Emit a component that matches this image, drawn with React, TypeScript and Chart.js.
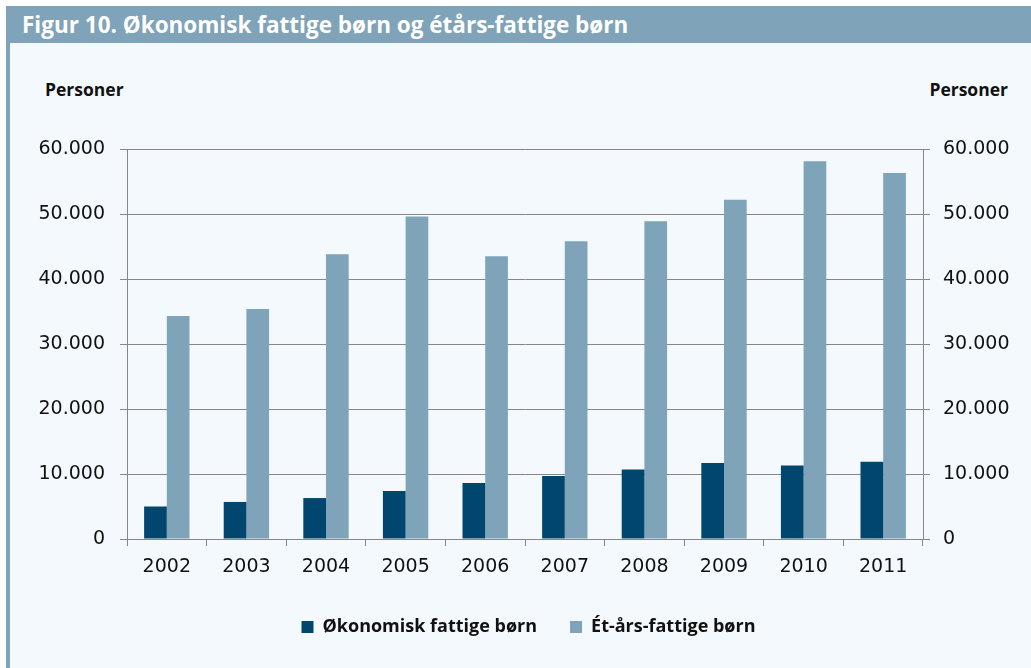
import React, { useEffect, useRef } from "react";
import { Chart, registerables } from "chart.js";

Chart.register(...registerables);

const title = "Figur 10. Økonomisk fattige børn og étårs-fattige børn";
const axisTitle = "Personer";
const years = ["2002", "2003", "2004", "2005", "2006", "2007", "2008", "2009", "2010", "2011"];
const seriesNames = ["Økonomisk fattige børn", "Ét-års-fattige børn"];
const okonomisk = [5000, 5700, 6300, 7400, 8600, 9700, 10700, 11700, 11300, 11900];
const etaars = [34300, 35400, 43800, 49600, 43500, 45800, 48900, 52200, 58100, 56300];
const yMin = 0;
const yMax = 60000;
const yStep = 10000;

const DARK = "#00466e";
const LIGHT = "#7fa3b8";
const GRID = "#878787";
const PANEL = "#f4f9fe";
const TICK_FONT = "'DejaVu Sans', sans-serif";
const BOLD_FONT = "'Open Sans', 'Liberation Sans', sans-serif";

function fmt(v: number): string {
  return String(v).replace(/\B(?=(\d{3})+(?!\d))/g, ".");
}

export default function App() {
  const ref = useRef<HTMLCanvasElement | null>(null);

  useEffect(() => {
    const canvas = ref.current;
    if (!canvas) return;
    const tickFont = { family: TICK_FONT, size: 19 };
    const chart = new Chart(canvas, {
      type: "bar",
      data: {
        labels: years,
        datasets: [
          {
            label: seriesNames[0],
            data: okonomisk,
            backgroundColor: DARK,
            borderWidth: 0,
            yAxisID: "y",
          },
          {
            label: seriesNames[1],
            data: etaars,
            backgroundColor: LIGHT,
            borderWidth: 0,
            yAxisID: "y",
          },
        ],
      },
      options: {
        responsive: false,
        animation: false,
        devicePixelRatio: 1,
        layout: { padding: { left: 26, right: 0, top: 149, bottom: 22 } },
        datasets: { bar: { categoryPercentage: 0.57, barPercentage: 1.0 } },
        plugins: {
          tooltip: { enabled: false },
          title: { display: false },
          legend: {
            display: true,
            position: "bottom",
            labels: {
              boxWidth: 12,
              boxHeight: 12,
              padding: 33,
              color: "#111",
              font: { family: BOLD_FONT, size: 18, weight: "bold" },
            },
          },
        },
        scales: {
          x: {
            offset: true,
            grid: {
              offset: true,
              drawOnChartArea: false,
              drawTicks: true,
              tickLength: 7,
              color: GRID,
              lineWidth: 1,
            },
            border: { display: true, color: GRID, width: 1 },
            ticks: { color: "#111", font: tickFont, padding: 10, maxRotation: 0, autoSkip: false },
            afterFit: (s: any) => {
              s.height = 46;
            },
          },
          y: {
            position: "left",
            min: yMin,
            max: yMax,
            ticks: {
              stepSize: yStep,
              color: "#111",
              font: tickFont,
              padding: 15,
              callback: (v: any) => fmt(Number(v)),
            },
            grid: { drawOnChartArea: true, drawTicks: true, tickLength: 7, color: GRID, lineWidth: 1 },
            border: { display: true, color: GRID, width: 1 },
            afterFit: (s: any) => {
              s.width = 101;
            },
          },
          y2: {
            position: "right",
            min: yMin,
            max: yMax,
            ticks: {
              stepSize: yStep,
              color: "#111",
              font: tickFont,
              padding: 13,
              callback: (v: any) => fmt(Number(v)),
            },
            grid: { drawOnChartArea: false, drawTicks: true, tickLength: 7, color: GRID, lineWidth: 1 },
            border: { display: true, color: GRID, width: 1 },
            afterFit: (s: any) => {
              s.width = 108;
            },
          },
        },
      },
    });
    return () => chart.destroy();
  }, []);

  return (
    <div
      style={{
        position: "absolute",
        left: 0,
        top: 0,
        width: 1031,
        height: 668,
        background: "#ffffff",
        overflow: "hidden",
      }}
    >
      <div
        style={{
          position: "absolute",
          left: 6,
          top: 6,
          right: 0,
          height: 37,
          background: LIGHT,
          color: "#ffffff",
          fontFamily: BOLD_FONT,
          fontWeight: 700,
          fontSize: 22.5,
          lineHeight: "37px",
          paddingLeft: 16,
          whiteSpace: "nowrap",
          boxSizing: "border-box",
        }}
      >
        {title}
      </div>
      <div
        style={{
          position: "absolute",
          left: 6,
          top: 43,
          right: 0,
          bottom: 0,
          background: PANEL,
          borderLeft: `4px solid ${LIGHT}`,
        }}
      />
      <div
        style={{
          position: "absolute",
          left: 45,
          top: 77,
          fontFamily: BOLD_FONT,
          fontWeight: 700,
          fontSize: 17.5,
          lineHeight: "24px",
          color: "#111",
        }}
      >
        {axisTitle}
      </div>
      <div
        style={{
          position: "absolute",
          right: 23,
          top: 77,
          fontFamily: BOLD_FONT,
          fontWeight: 700,
          fontSize: 17.5,
          lineHeight: "24px",
          color: "#111",
          textAlign: "right",
        }}
      >
        {axisTitle}
      </div>
      <canvas
        ref={ref}
        width={1031}
        height={668}
        style={{ position: "absolute", left: 0, top: 0, width: 1031, height: 668 }}
      />
    </div>
  );
}
